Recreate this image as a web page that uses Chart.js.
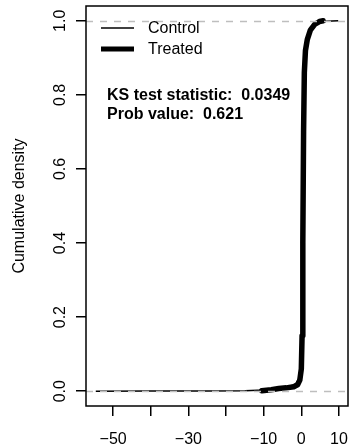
<!DOCTYPE html>
<html>
<head>
<meta charset="utf-8">
<script src="https://cdn.jsdelivr.net/npm/chart.js@4/dist/chart.umd.min.js"></script>
<style>
  html, body { margin: 0; padding: 0; background: #fff; }
  #wrap { width: 350px; height: 446px; }
</style>
</head>
<body>
<div id="wrap"><canvas id="ksChart" width="350" height="446"></canvas></div>
<script>
// --- DATA ---
const controlX = [-54.6, -40, -25, -15, -10, -7, -5, -3, -1.5, -0.6, -0.1, 0.2, 0.45, 0.7, 0.95, 1.3, 2.0, 3.0, 4.5, 6.5, 9.8];
const controlY = [0, 0.0003, 0.0008, 0.0015, 0.003, 0.006, 0.009, 0.013, 0.02, 0.035, 0.07, 0.2, 0.5, 0.78, 0.88, 0.93, 0.965, 0.985, 0.996, 0.999, 1];

const treatedX = [-10.5, -8, -6, -4, -2, -1, -0.4, 0.0, 0.2, 0.4, 0.6, 0.8, 1.1, 1.6, 2.4, 3.5, 4.8, 5.8];
const treatedY = [0.001, 0.004, 0.007, 0.009, 0.012, 0.017, 0.03, 0.06, 0.15, 0.4, 0.7, 0.86, 0.92, 0.95, 0.975, 0.99, 0.998, 1.0];

const xTicks = [-50, -40, -30, -20, -10, 0, 10];
const xTickLabels = ['\u221250', '', '\u221230', '', '\u221210', '0', '10'];
const yTicks = [0, 0.2, 0.4, 0.6, 0.8, 1.0];
const yTickLabels = ['0.0', '0.2', '0.4', '0.6', '0.8', '1.0'];
const refLines = [0, 1];

const seriesNames = ['Control', 'Treated'];
const ksLines = ['KS test statistic:  0.0349', 'Prob value:  0.621'];
const yTitle = 'Cumulative density';

// --- CONFIGURATION ---
const FONT = '"Liberation Sans", Arial, Helvetica, sans-serif';

const toPoints = (xs, ys) => xs.map((x, i) => ({ x: x, y: ys[i] }));

// --- EXTRAS: box, dashed lines, legend, text, y labels ---
const extras = {
    id: 'extras',
    afterDatasetsDraw(chart) {
        const ctx = chart.ctx;
        const a = chart.chartArea;
        const ys = chart.scales.y;

        ctx.save();

        // dashed reference lines at 0 and 1
        ctx.strokeStyle = '#bebebe';
        ctx.lineWidth = 1.5;
        ctx.setLineDash([7, 7]);
        refLines.forEach(v => {
            const py = Math.round(ys.getPixelForValue(v)) + 0.5;
            ctx.beginPath();
            ctx.moveTo(a.left, py);
            ctx.lineTo(a.right, py);
            ctx.stroke();
        });
        ctx.setLineDash([]);

        // box
        ctx.strokeStyle = '#000';
        ctx.lineWidth = 1.5;
        ctx.strokeRect(a.left, a.top, a.right - a.left, a.bottom - a.top);

        // legend
        ctx.fillStyle = '#000';
        ctx.font = '16px ' + FONT;
        ctx.textBaseline = 'middle';
        ctx.textAlign = 'left';
        const legendRows = [{ y: 28, w: 1.5 }, { y: 49, w: 5 }];
        legendRows.forEach((r, i) => {
            ctx.lineWidth = r.w;
            ctx.beginPath();
            ctx.moveTo(101, r.y);
            ctx.lineTo(134, r.y);
            ctx.stroke();
            ctx.fillText(seriesNames[i], 148, r.y + 1);
        });

        // KS text
        ctx.font = 'bold 16px ' + FONT;
        ctx.textBaseline = 'alphabetic';
        ctx.fillText(ksLines[0], 107, 100);
        ctx.fillText(ksLines[1], 107, 119);

        // y tick labels (rotated like R)
        ctx.font = '16px ' + FONT;
        ctx.textAlign = 'center';
        ctx.textBaseline = 'middle';
        yTicks.forEach((v, i) => {
            const py = ys.getPixelForValue(v);
            ctx.save();
            ctx.translate(61, py);
            ctx.rotate(-Math.PI / 2);
            ctx.fillText(yTickLabels[i], 0, 0);
            ctx.restore();
        });

        // y axis title
        ctx.save();
        ctx.translate(20, (a.top + a.bottom) / 2);
        ctx.rotate(-Math.PI / 2);
        ctx.fillText(yTitle, 0, 0);
        ctx.restore();

        ctx.restore();
    }
};

// --- CHART ---
new Chart(document.getElementById('ksChart'), {
    type: 'line',
    data: {
        datasets: [
            {
                label: seriesNames[0],
                data: toPoints(controlX, controlY),
                borderColor: '#000',
                borderWidth: 1.5,
                pointRadius: 0,
                tension: 0,
                fill: false
            },
            {
                label: seriesNames[1],
                data: toPoints(treatedX, treatedY),
                borderColor: '#000',
                borderWidth: 5.5,
                pointRadius: 0,
                tension: 0,
                fill: false,
                borderJoinStyle: 'round',
                borderCapStyle: 'round'
            }
        ]
    },
    options: {
        responsive: false,
        animation: false,
        devicePixelRatio: 1,
        layout: { padding: { top: 6, right: 2, left: 0, bottom: 0 } },
        plugins: { legend: { display: false }, tooltip: { enabled: false } },
        scales: {
            x: {
                type: 'linear',
                min: -57.2,
                max: 12.4,
                afterBuildTicks: s => { s.ticks = xTicks.map(v => ({ value: v })); },
                afterFit: s => { s.height = 40; s.paddingLeft = 0; s.paddingRight = 0; },
                border: { display: false },
                grid: { drawOnChartArea: false, drawTicks: true, tickLength: 10, color: '#000', lineWidth: 1.5 },
                ticks: {
                    autoSkip: false,
                    maxRotation: 0,
                    padding: 14,
                    color: '#000',
                    font: { family: FONT, size: 16 },
                    callback: (v, i) => xTickLabels[i]
                }
            },
            y: {
                type: 'linear',
                min: -0.04,
                max: 1.04,
                afterBuildTicks: s => { s.ticks = yTicks.map(v => ({ value: v })); },
                afterFit: s => { s.width = 86; s.paddingTop = 0; s.paddingBottom = 0; },
                border: { display: false },
                grid: { drawOnChartArea: false, drawTicks: true, tickLength: 10, color: '#000', lineWidth: 1.5 },
                ticks: { display: false }
            }
        }
    },
    plugins: [extras]
});
</script>
</body>
</html>
